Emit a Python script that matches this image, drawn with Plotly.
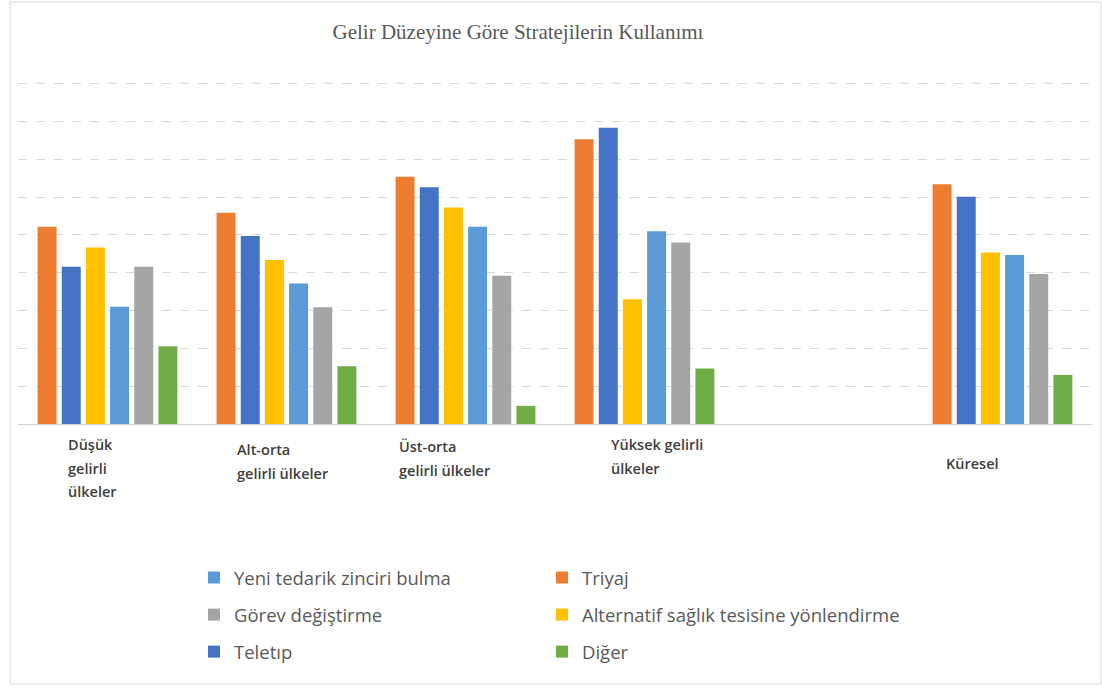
import plotly.graph_objects as go

categories = ["Düşük gelirli ülkeler", "Alt-orta gelirli ülkeler", "Üst-orta gelirli ülkeler",
              "Yüksek gelirli ülkeler", " ", "Küresel"]

triyaj = [52.2, 55.9, 65.4, 75.3, None, 63.4]
teletip = [41.6, 49.7, 62.6, 78.4, None, 60.1]
alternatif = [46.7, 43.4, 57.3, 33.0, None, 45.4]
yeni_tedarik = [31.0, 37.2, 52.2, 51.0, None, 44.7]
gorev = [41.6, 30.9, 39.2, 48.0, None, 39.7]
diger = [20.6, 15.3, 4.8, 14.7, None, 13.0]

# category label lines (shown as left-aligned blocks under each group)
label_lines = [["Düşük", "gelirli", "ülkeler"],
               ["Alt-orta", "gelirli ülkeler"],
               ["Üst-orta", "gelirli ülkeler"],
               ["Yüksek gelirli", "ülkeler"],
               [],
               ["Küresel"]]

W, H = 1102, 688
ML, MR, MT, MB = 18, 10, 80, 264
PW, PH = W - ML - MR, H - MT - MB
YMAX = 91

def px_y(py):
    return (H - MB - py) / PH

def px_x(px):
    return (px - ML) / PW

series = [
    ("Triyaj", triyaj, "#ED7D31", "legend2", 1),
    ("Teletıp", teletip, "#4472C4", "legend", 3),
    ("Alternatif sağlık tesisine yönlendirme", alternatif, "#FFC000", "legend2", 2),
    ("Yeni tedarik zinciri bulma", yeni_tedarik, "#5B9BD5", "legend", 1),
    ("Görev değiştirme", gorev, "#A5A5A5", "legend", 2),
    ("Diğer", diger, "#70AD47", "legend2", 3),
]

fig = go.Figure()
for name, vals, color, leg, rank in series:
    fig.add_trace(go.Bar(x=categories, y=vals, name=name, marker_color=color,
                         marker_line_width=0, legend=leg, legendrank=rank,
                         legendgroup=name))

# label annotations
lbl_x = [66, 235, 397, 609, None, 944]
lbl_y0 = [445, 450, 447, 445, None, 463]
pitch = PW / len(categories)
for i, lines in enumerate(label_lines):
    if not lines:
        continue
    center = ML + pitch * (i + 0.5)
    off = (lbl_x[i] - center) / pitch
    for j, line in enumerate(lines):
        fig.add_annotation(x=i + off, xref="x", y=px_y(lbl_y0[i] + 23.5 * j), yref="paper",
                           text=line, showarrow=False, xanchor="left", yanchor="middle",
                           font=dict(family="Open Sans", size=14.5, color="#404040", weight=600))

fig.add_shape(type="rect", xref="paper", yref="paper",
              x0=px_x(10), x1=px_x(1101), y0=px_y(684), y1=px_y(2),
              line=dict(color="#d9d9d9", width=1), fillcolor="rgba(0,0,0,0)", layer="below")

legend_common = dict(orientation="v", yanchor="top", xanchor="left",
                     font=dict(family="Open Sans", size=18.5, color="#595959"),
                     tracegroupgap=10, bgcolor="rgba(0,0,0,0)", itemclick=False)

fig.update_layout(
    width=W, height=H,
    margin=dict(l=ML, r=MR, t=MT, b=MB),
    paper_bgcolor="white", plot_bgcolor="white",
    barmode="group", bargap=0.19, bargroupgap=0.215,
    title=dict(text="Gelir Düzeyine Göre Stratejilerin Kullanımı",
               x=518 / W, y=1 - 32 / H, xanchor="center", yanchor="middle",
               font=dict(family="Liberation Serif", size=21, color="#595959")),
    xaxis=dict(showticklabels=False, showgrid=False, showline=False, zeroline=False,
               ticks=""),
    yaxis=dict(range=[0, YMAX], dtick=10, showticklabels=False, showgrid=True,
               gridcolor="#d9d9d9", griddash="dash", gridwidth=1,
               zeroline=True, zerolinecolor="#d0d0d0", zerolinewidth=1, ticks=""),
    showlegend=True,
    legend=dict(x=px_x(194), y=px_y(559), **legend_common),
    legend2=dict(x=px_x(542), y=px_y(559), **legend_common),
)

fig.write_html("out.html")
